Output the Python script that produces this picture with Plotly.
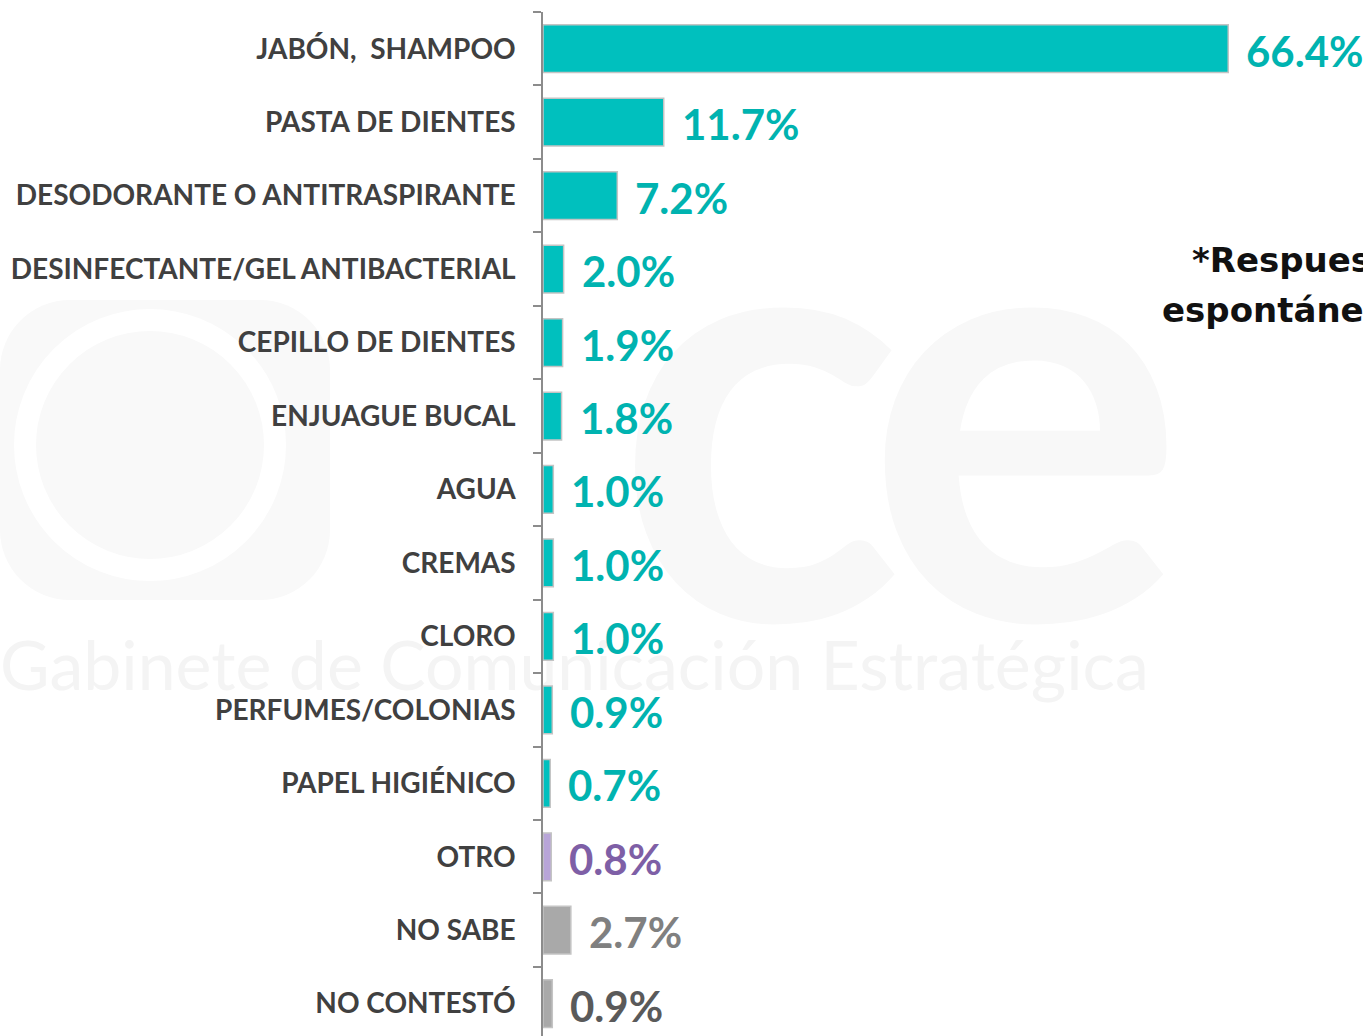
import base64
import plotly.graph_objects as go

categories = [
    "JABÓN,  SHAMPOO",
    "PASTA DE DIENTES",
    "DESODORANTE O ANTITRASPIRANTE",
    "DESINFECTANTE/GEL ANTIBACTERIAL",
    "CEPILLO DE DIENTES",
    "ENJUAGUE BUCAL",
    "AGUA",
    "CREMAS",
    "CLORO",
    "PERFUMES/COLONIAS",
    "PAPEL HIGIÉNICO",
    "OTRO",
    "NO SABE",
    "NO CONTESTÓ",
]
values = [66.4, 11.7, 7.2, 2.0, 1.9, 1.8, 1.0, 1.0, 1.0, 0.9, 0.7, 0.8, 2.7, 0.9]
value_labels = ["66.4%", "11.7%", "7.2%", "2.0%", "1.9%", "1.8%", "1.0%", "1.0%",
                "1.0%", "0.9%", "0.7%", "0.8%", "2.7%", "0.9%"]
note_lines = ["*Respuesta", "espontánea"]

TEAL_BAR, TEAL_TXT = "#00C0BE", "#00B3B0"
PURPLE_BAR, PURPLE_TXT = "#B8A5D8", "#7E5FA6"
GRAY_BAR = "#A9A9A9"
bar_colors = [TEAL_BAR] * 11 + [PURPLE_BAR, GRAY_BAR, GRAY_BAR]
text_colors = [TEAL_TXT] * 11 + [PURPLE_TXT, "#808080", "#5A5A5A"]

W, H = 1363, 1036
ML, MR, MT, MB = 543, 0, 12, 0
PW, PH = W - ML - MR, H - MT - MB


def px(x):
    return (x - ML) / PW


def py(y):
    return 1 - (y - MT) / PH


fig = go.Figure()
fig.add_trace(go.Bar(
    y=categories, x=values, orientation="h",
    marker=dict(color=bar_colors, line=dict(color="#C4C4C4", width=1.5)),
    hoverinfo="skip",
))

for c, v, t, col in zip(categories, values, value_labels, text_colors):
    fig.add_annotation(
        x=v, y=c, xref="x", yref="y", text=t, showarrow=False,
        xanchor="left", yanchor="middle", xshift=16, yshift=-2,
        font=dict(family="Lato", size=42, color=col, weight="bold"),
    )

for line, x0, yc in zip(note_lines, [1190, 1160], [260, 310]):
    fig.add_annotation(
        x=px(x0), y=py(yc), xref="paper", yref="paper", text=line,
        showarrow=False, xanchor="left", yanchor="middle",
        font=dict(family="DejaVu Sans", size=34, color="#111111", weight="bold"),
    )

# faint watermark as background image
svg = f'''<svg xmlns="http://www.w3.org/2000/svg" width="{W}" height="{H}" viewBox="0 0 {W} {H}">
<rect x="0" y="300" width="330" height="300" rx="70" fill="#F9F9F9"/>
<circle cx="150" cy="445" r="125" fill="none" stroke="#FFFFFF" stroke-width="22"/>
<g font-family="Lato, sans-serif" font-weight="bold" fill="#F8F8F8">
<text x="615" y="620" font-size="600">c</text>
<text x="865" y="620" font-size="600">e</text>
</g>
<text x="0" y="690" font-family="Lato, sans-serif" font-size="68" fill="#F4F4F4">Gabinete de  Comunicación  Estratégica</text>
</svg>'''
src = "data:image/svg+xml;base64," + base64.b64encode(svg.encode("utf-8")).decode()
fig.add_layout_image(dict(
    source=src, xref="paper", yref="paper",
    x=-ML / PW, y=1 + MT / PH, sizex=W / PW, sizey=H / PH,
    xanchor="left", yanchor="top", sizing="stretch", layer="below",
))

fig.update_layout(
    width=W, height=H,
    margin=dict(l=ML, r=MR, t=MT, b=MB, pad=0),
    paper_bgcolor="white", plot_bgcolor="rgba(0,0,0,0)",
    bargap=0.35, showlegend=False,
    xaxis=dict(range=[0, PW / 10.32], visible=False, fixedrange=True),
    yaxis=dict(
        type="category", range=[13.44, -0.5],
        showline=True, linecolor="#8C8C8C", linewidth=1.5,
        ticks="outside", tickson="boundaries", ticklen=8, tickcolor="#8C8C8C", tickwidth=1.5,
        ticklabelstandoff=20,
        tickfont=dict(family="Lato", size=28, color="#404040", weight="bold"),
        showgrid=False, zeroline=False, fixedrange=True,
    ),
)

fig.write_html("out.html", config={"displayModeBar": False},
               post_script="document.body.style.margin='0px';")
